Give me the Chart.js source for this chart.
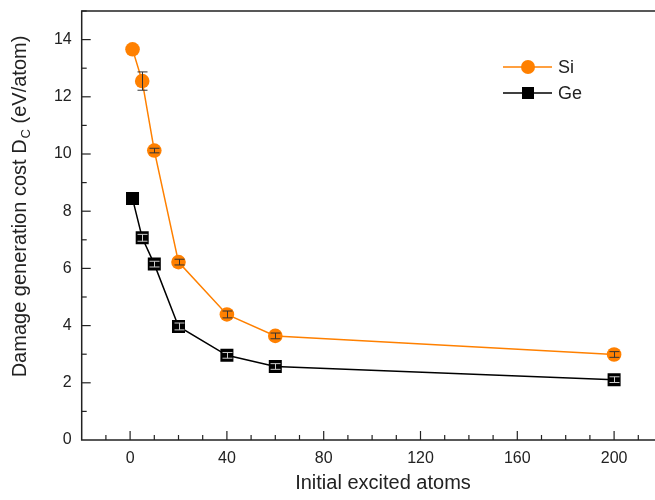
<!DOCTYPE html>
<html>
<head>
<meta charset="utf-8">
<script src="https://cdn.jsdelivr.net/npm/chart.js@4.4.1/dist/chart.umd.min.js"></script>
<style>
  html, body { margin: 0; padding: 0; background: #fff; overflow: hidden; }
  #wrap { width: 655px; height: 500px; overflow: hidden; }
  #chart { display: block; }
</style>
</head>
<body>
<div id="wrap"><canvas id="chart" width="680" height="500"></canvas></div>
<script>
// excited atoms on the x axis
const atoms = [1, 5, 10, 20, 40, 60, 200];

// damage generation cost (eV/atom)
const siCost = [13.66, 12.55, 10.12, 6.22, 4.39, 3.64, 2.99];
const geCost = [8.44, 7.07, 6.15, 3.97, 2.96, 2.57, 2.11];

// error bar half heights
const siErr = [0, 0.32, 0.08, 0.1, 0.12, 0.1, 0.1];
const geErr = [0, 0.12, 0.1, 0.12, 0.1, 0.1, 0.1];

const xTicks = [0, 40, 80, 120, 160, 200];
const yTicks = [0, 2, 4, 6, 8, 10, 12, 14];

const orange = '#FF8000';
const font = '"Liberation Sans", Arial, sans-serif';

function toPoints(xs, ys) {
    return xs.map((x, i) => ({ x: x, y: ys[i] }));
}

// frame, inward ticks, error bars, titles and legend
const decorPlugin = {
    id: 'decor',
    afterDraw(chart) {
        const ctx = chart.ctx;
        const a = chart.chartArea;
        const xs = chart.scales.x;
        const ys = chart.scales.y;

        ctx.save();
        ctx.strokeStyle = '#222';
        ctx.lineWidth = 1.5;
        ctx.strokeRect(a.left, a.top, a.right - a.left, a.bottom - a.top);

        // x ticks
        ctx.lineWidth = 1.2;
        for (let v = -10; v <= 220; v += 10) {
            const px = xs.getPixelForValue(v);
            const len = (v % 40 === 0) ? 9 : 5;
            ctx.beginPath();
            ctx.moveTo(px, a.bottom);
            ctx.lineTo(px, a.bottom - len);
            ctx.stroke();
        }
        // y ticks
        for (let v = 1; v <= 15; v += 1) {
            const py = ys.getPixelForValue(v);
            const len = (v % 2 === 0) ? 9 : 5;
            ctx.beginPath();
            ctx.moveTo(a.left, py);
            ctx.lineTo(a.left + len, py);
            ctx.stroke();
        }

        // error bars
        const drawErr = (ysArr, errArr, color) => {
            ctx.strokeStyle = color;
            ctx.lineWidth = 1;
            atoms.forEach((x, i) => {
                if (!errArr[i]) return;
                const px = Math.round(xs.getPixelForValue(x)) + 0.5;
                const top = ys.getPixelForValue(ysArr[i] + errArr[i]);
                const bot = ys.getPixelForValue(ysArr[i] - errArr[i]);
                ctx.beginPath();
                ctx.moveTo(px, top);
                ctx.lineTo(px, bot);
                ctx.moveTo(px - 5, top);
                ctx.lineTo(px + 5, top);
                ctx.moveTo(px - 5, bot);
                ctx.lineTo(px + 5, bot);
                ctx.stroke();
            });
        };
        drawErr(siCost, siErr, '#333');
        drawErr(geCost, geErr, '#ccc');

        // axis titles
        ctx.fillStyle = '#222';
        ctx.font = '20px ' + font;
        ctx.textAlign = 'center';
        ctx.textBaseline = 'middle';
        ctx.fillText('Initial excited atoms', 383, 483);

        ctx.save();
        ctx.translate(20, 207);
        ctx.rotate(-Math.PI / 2);
        const p1 = 'Damage generation cost D';
        const p2 = 'C';
        const p3 = ' (eV/atom)';
        ctx.font = '20px ' + font;
        const w1 = ctx.measureText(p1).width;
        const w3 = ctx.measureText(p3).width;
        ctx.font = '13px ' + font;
        const w2 = ctx.measureText(p2).width;
        let sx = -(w1 + w2 + w3) / 2;
        ctx.textAlign = 'left';
        ctx.font = '20px ' + font;
        ctx.fillText(p1, sx, 0);
        ctx.font = '13px ' + font;
        ctx.fillText(p2, sx + w1 + 1, 6);
        ctx.font = '20px ' + font;
        ctx.fillText(p3, sx + w1 + w2 + 1, 0);
        ctx.restore();

        // legend
        const items = [
            { label: 'Si', color: orange, shape: 'circle', y: 67 },
            { label: 'Ge', color: '#000', shape: 'rect', y: 93 }
        ];
        items.forEach(it => {
            ctx.strokeStyle = it.color;
            ctx.lineWidth = 1.5;
            ctx.beginPath();
            ctx.moveTo(503, it.y);
            ctx.lineTo(552, it.y);
            ctx.stroke();
            ctx.fillStyle = it.color;
            if (it.shape === 'circle') {
                ctx.beginPath();
                ctx.arc(528, it.y, 7, 0, Math.PI * 2);
                ctx.fill();
            } else {
                ctx.fillRect(522, it.y - 6, 12, 12);
            }
            ctx.fillStyle = '#222';
            ctx.font = '18px ' + font;
            ctx.textAlign = 'left';
            ctx.fillText(it.label, 558, it.y + 1);
        });
        ctx.restore();
    }
};

new Chart(document.getElementById('chart').getContext('2d'), {
    type: 'scatter',
    data: {
        datasets: [
            {
                label: 'Si',
                data: toPoints(atoms, siCost),
                showLine: true,
                borderColor: orange,
                backgroundColor: orange,
                borderWidth: 1.5,
                pointStyle: 'circle',
                pointRadius: 7.3,
                pointBorderWidth: 0,
                pointBackgroundColor: orange
            },
            {
                label: 'Ge',
                data: toPoints(atoms, geCost),
                showLine: true,
                borderColor: '#000',
                backgroundColor: '#000',
                borderWidth: 1.5,
                pointStyle: 'rect',
                pointRadius: 9.2,
                pointBorderWidth: 0,
                pointBackgroundColor: '#000'
            }
        ]
    },
    options: {
        responsive: false,
        animation: false,
        layout: { padding: { top: 11, right: 17.5, left: 0, bottom: 0 } },
        plugins: {
            legend: { display: false },
            tooltip: { enabled: false }
        },
        scales: {
            x: {
                type: 'linear',
                min: -20,
                max: 220,
                border: { display: false },
                grid: { display: false, drawTicks: false },
                afterBuildTicks: s => { s.ticks = xTicks.map(v => ({ value: v })); },
                afterFit: s => { s.height = 60; s.paddingLeft = 0; s.paddingRight = 0; },
                ticks: {
                    color: '#222',
                    padding: 9,
                    font: { family: font, size: 16 }
                }
            },
            y: {
                type: 'linear',
                min: 0,
                max: 15,
                border: { display: false },
                grid: { display: false, drawTicks: false },
                afterBuildTicks: s => { s.ticks = yTicks.map(v => ({ value: v })); },
                afterFit: s => { s.width = 81.7; s.paddingTop = 0; s.paddingBottom = 0; },
                ticks: {
                    color: '#222',
                    padding: 10,
                    font: { family: font, size: 16 }
                }
            }
        }
    },
    plugins: [decorPlugin]
});
</script>
</body>
</html>
